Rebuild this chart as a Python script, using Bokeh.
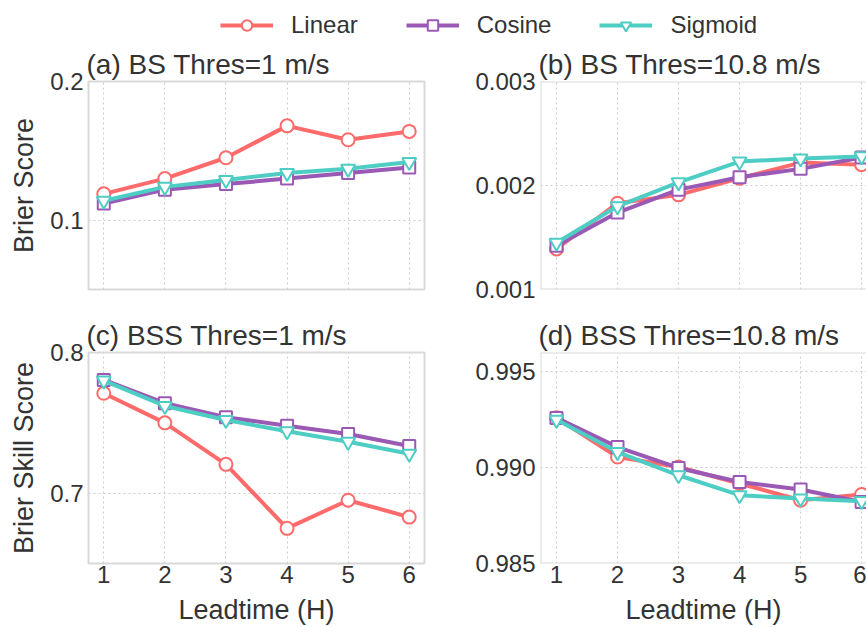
from bokeh.plotting import figure
from bokeh.layouts import column, row
from bokeh.models import Range1d, FixedTicker, Legend, LegendItem, Span, ColumnDataSource
from bokeh.embed import file_html
from bokeh.resources import INLINE

# ---- data ----
leadtime = [1, 2, 3, 4, 5, 6]
series_names = ["Linear", "Cosine", "Sigmoid"]

bs1_linear = [0.119, 0.130, 0.145, 0.168, 0.158, 0.164]
bs1_cosine = [0.112, 0.122, 0.126, 0.130, 0.134, 0.138]
bs1_sigmoid = [0.114, 0.124, 0.129, 0.134, 0.137, 0.142]

bs10_linear = [0.00139, 0.00183, 0.00191, 0.00207, 0.00222, 0.00220]
bs10_cosine = [0.00142, 0.00174, 0.00196, 0.00208, 0.00216, 0.00227]
bs10_sigmoid = [0.00145, 0.00180, 0.00203, 0.00223, 0.00226, 0.00228]

bss1_linear = [0.771, 0.750, 0.7205, 0.675, 0.695, 0.683]
bss1_cosine = [0.7805, 0.764, 0.754, 0.748, 0.742, 0.7335]
bss1_sigmoid = [0.780, 0.762, 0.752, 0.744, 0.7365, 0.728]

bss10_linear = [0.9926, 0.99055, 0.99003, 0.98917, 0.9883, 0.9886]
bss10_cosine = [0.99259, 0.99107, 0.98998, 0.98925, 0.98886, 0.98821]
bss10_sigmoid = [0.99249, 0.99081, 0.9896, 0.98856, 0.98839, 0.98825]

x_ticks = [1, 2, 3, 4, 5, 6]
yticks_a = [0.1, 0.2]
yticks_b = [0.001, 0.002, 0.003]
yticks_c = [0.7, 0.8]
yticks_d = [0.985, 0.990, 0.995]
ylabels_a = ["0.1", "0.2"]
ylabels_b = ["0.001", "0.002", "0.003"]
ylabels_c = ["0.7", "0.8"]
ylabels_d = ["0.985", "0.990", "0.995"]

titles = ["(a) BS Thres=1 m/s", "(b) BS Thres=10.8 m/s",
          "(c) BSS Thres=1 m/s", "(d) BSS Thres=10.8 m/s"]

# ---- styles ----
FONT = "Liberation Sans"
TXT = "#333333"
colors = {"Linear": "#FF6B6B", "Cosine": "#9B59B6", "Sigmoid": "#4ECDC4"}
markers = {"Linear": ("circle", 13), "Cosine": ("square", 12), "Sigmoid": ("inverted_triangle", 14)}
GRID = "#cccccc"
FRAME = "#d9d9d9"


def make_panel(title, w, h, left, right, top, bottom, xr, yr, yt, yl,
               series, show_x, ylabel, right_side):
    p = figure(width=w, height=h, output_backend="svg", toolbar_location=None,
               x_range=Range1d(*xr), y_range=Range1d(*yr),
               min_border_left=left, min_border_right=right,
               min_border_top=top, min_border_bottom=bottom)
    p.background_fill_color = "white"
    p.border_fill_color = "white"
    p.title.text = title
    p.title.align = "left"
    p.title.text_font = FONT
    p.title.text_font_size = "28px"
    p.title.text_font_style = "normal"
    p.title.text_color = TXT
    p.title.standoff = 3
    p.title.offset = -2

    if right_side:
        p.outline_line_color = None
        for loc in [yr[0], yr[1]]:
            p.add_layout(Span(location=loc, dimension="width", line_color=FRAME, line_width=2))
        p.add_layout(Span(location=xr[0], dimension="height", line_color=FRAME, line_width=2))
    else:
        p.outline_line_color = FRAME
        p.outline_line_width = 2

    p.xaxis.ticker = FixedTicker(ticks=x_ticks)
    p.xgrid.ticker = FixedTicker(ticks=x_ticks)
    p.yaxis.ticker = FixedTicker(ticks=yt)
    p.ygrid.ticker = FixedTicker(ticks=yt)
    p.yaxis.major_label_overrides = {t: l for t, l in zip(yt, yl)}
    for ax in [p.xaxis[0], p.yaxis[0]]:
        ax.axis_line_color = None
        ax.major_tick_line_color = None
        ax.minor_tick_line_color = None
        ax.major_tick_out = 0
        ax.major_tick_in = 0
        ax.major_label_text_font = FONT
        ax.major_label_text_font_size = "24px"
        ax.major_label_text_color = TXT
        ax.major_label_text_line_height = 1.0
        ax.axis_label_text_font = FONT
        ax.axis_label_text_font_size = "27px"
        ax.axis_label_text_font_style = "normal"
        ax.axis_label_text_color = TXT
        ax.axis_label_text_line_height = 1.0
    p.yaxis.major_label_standoff = 5
    p.xaxis.major_label_standoff = 2
    if ylabel:
        p.yaxis.axis_label = ylabel
        p.yaxis.axis_label_standoff = 8
    if show_x:
        p.xaxis.axis_label = "Leadtime (H)"
        p.xaxis.axis_label_standoff = 9
    else:
        p.xaxis.visible = False

    for g in [p.xgrid, p.ygrid]:
        g.grid_line_color = GRID
        g.grid_line_dash = "2 3"
        g.grid_line_width = 1

    for name, vals in zip(series_names, series):
        src = ColumnDataSource(dict(x=leadtime, y=vals))
        c = colors[name]
        m, s = markers[name]
        p.line("x", "y", source=src, line_color=c, line_width=4)
        p.scatter("x", "y", source=src, marker=m, size=s, fill_color="white",
                  line_color=c, line_width=2)
    return p


xr_left = (0.75, 6.25)
xr_right = (0.738, 6.08)

pa = make_panel(titles[0], 440, 265, 88, 16, 32, 21, xr_left, (0.05, 0.2),
                yticks_a, ylabels_a, [bs1_linear, bs1_cosine, bs1_sigmoid],
                False, "Brier Score", False)
pb = make_panel(titles[1], 426, 265, 100, 0, 32, 21, xr_right, (0.001, 0.003),
                yticks_b, ylabels_b, [bs10_linear, bs10_cosine, bs10_sigmoid],
                False, None, True)
pc = make_panel(titles[2], 440, 317, 88, 16, 42, 63, xr_left, (0.65, 0.8),
                yticks_c, ylabels_c, [bss1_linear, bss1_cosine, bss1_sigmoid],
                True, "Brier Skill Score", False)
pd = make_panel(titles[3], 426, 317, 100, 0, 42, 63, xr_right, (0.985, 0.996),
                yticks_d, ylabels_d, [bss10_linear, bss10_cosine, bss10_sigmoid],
                True, None, True)

# legend strip
pl = figure(width=866, height=45, output_backend="svg", toolbar_location=None,
            x_range=Range1d(0, 1), y_range=Range1d(0, 1),
            min_border=0)
pl.axis.visible = False
pl.grid.visible = False
pl.outline_line_color = None
items = []
for name in series_names:
    c = colors[name]
    m, s = markers[name]
    hidden = ColumnDataSource(dict(x=[-10, -9], y=[-10, -9]))
    r1 = pl.line("x", "y", source=hidden, line_color=c, line_width=4)
    r2 = pl.scatter("x", "y", source=hidden, marker=m, size=s, fill_color="white",
                    line_color=c, line_width=2)
    items.append(LegendItem(label=name, renderers=[r1, r2]))
leg = Legend(items=items, orientation="horizontal", location=(220, 6),
             glyph_width=53, glyph_height=26, label_height=26, label_standoff=18,
             spacing=48, padding=0, margin=0, border_line_color=None,
             background_fill_alpha=0,
             label_text_font=FONT, label_text_font_size="24px", label_text_color=TXT)
pl.add_layout(leg, "center")

layout = column(pl, row(pa, pb), row(pc, pd))
open("out.html", "w").write(file_html(layout, INLINE))
